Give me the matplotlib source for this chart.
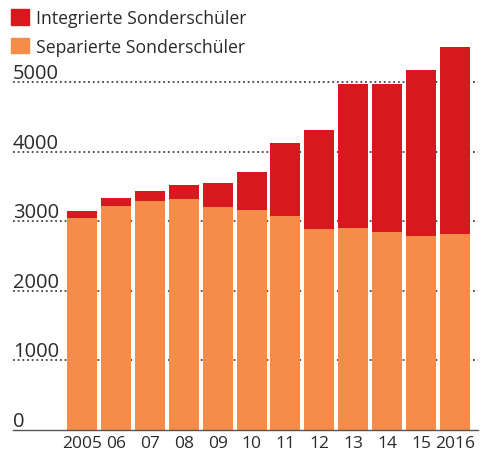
import matplotlib
matplotlib.use('Agg')

import numpy as np
from matplotlib import pyplot as plt
from matplotlib.patches import Patch

years = ['2005', '06', '07', '08', '09', '10', '11', '12', '13', '14', '15', '2016']
separiert = [3036, 3223, 3281, 3319, 3199, 3155, 3069, 2878, 2896, 2835, 2791, 2806]
gesamt = [3151, 3333, 3429, 3525, 3549, 3702, 4125, 4312, 4974, 4974, 5170, 5506]
integriert = [g - s for g, s in zip(gesamt, separiert)]
yticks = [0, 1000, 2000, 3000, 4000, 5000]

RED = '#d7191f'
ORANGE = '#f58c4a'
TEXT = '#2a2a2a'

plt.rcParams['font.family'] = ['Open Sans', 'DejaVu Sans']

W, H = 482, 452
fig = plt.figure(figsize=(W / 100, H / 100), dpi=100)

# axes placed in pixel terms
left_px, right_px = 13, 478
zero_px, top_px = 430.5, 40
px_per_unit = 69.5 / 1000
ax = fig.add_axes([left_px / W, (H - zero_px) / H,
                   (right_px - left_px) / W, (zero_px - top_px) / H])

pitch = 33.9
x = np.arange(len(years))
ax.set_xlim((left_px - 82) / pitch, (right_px - 82) / pitch)
ax.set_ylim(0, (zero_px - top_px) / px_per_unit)

for v in yticks[1:]:
    ax.axhline(v, color='#444444', lw=1.3, ls=(0, (1, 1.6)), zorder=1)

ax.bar(x, separiert, width=30 / pitch, color=ORANGE, zorder=2)
ax.bar(x, integriert, bottom=separiert, width=30 / pitch, color=RED, zorder=2)

for v in yticks:
    ax.text(0, v + 55, str(v), transform=ax.get_yaxis_transform(),
            ha='left', va='baseline', fontsize=14.5, color=TEXT)

ax.set_yticks([])
ax.set_xticks(x)
ax.set_xticklabels(years, fontsize=12.5, color=TEXT)
ax.tick_params(axis='x', length=0, pad=4)

for s in ['top', 'right', 'left']:
    ax.spines[s].set_visible(False)
ax.spines['bottom'].set_color('#555555')
ax.spines['bottom'].set_linewidth(1.0)

handles = [Patch(color=RED, label='Integrierte Sonderschüler'),
           Patch(color=ORANGE, label='Separierte Sonderschüler')]
fig.legend(handles=handles, loc='upper left', bbox_to_anchor=(4 / W, 1 - 3 / H),
           frameon=False, fontsize=12.7, handlelength=1.0, handleheight=1.0,
           handletextpad=0.4, labelspacing=0.6, borderaxespad=0, labelcolor=TEXT)

fig.savefig('out.png', dpi=100)
